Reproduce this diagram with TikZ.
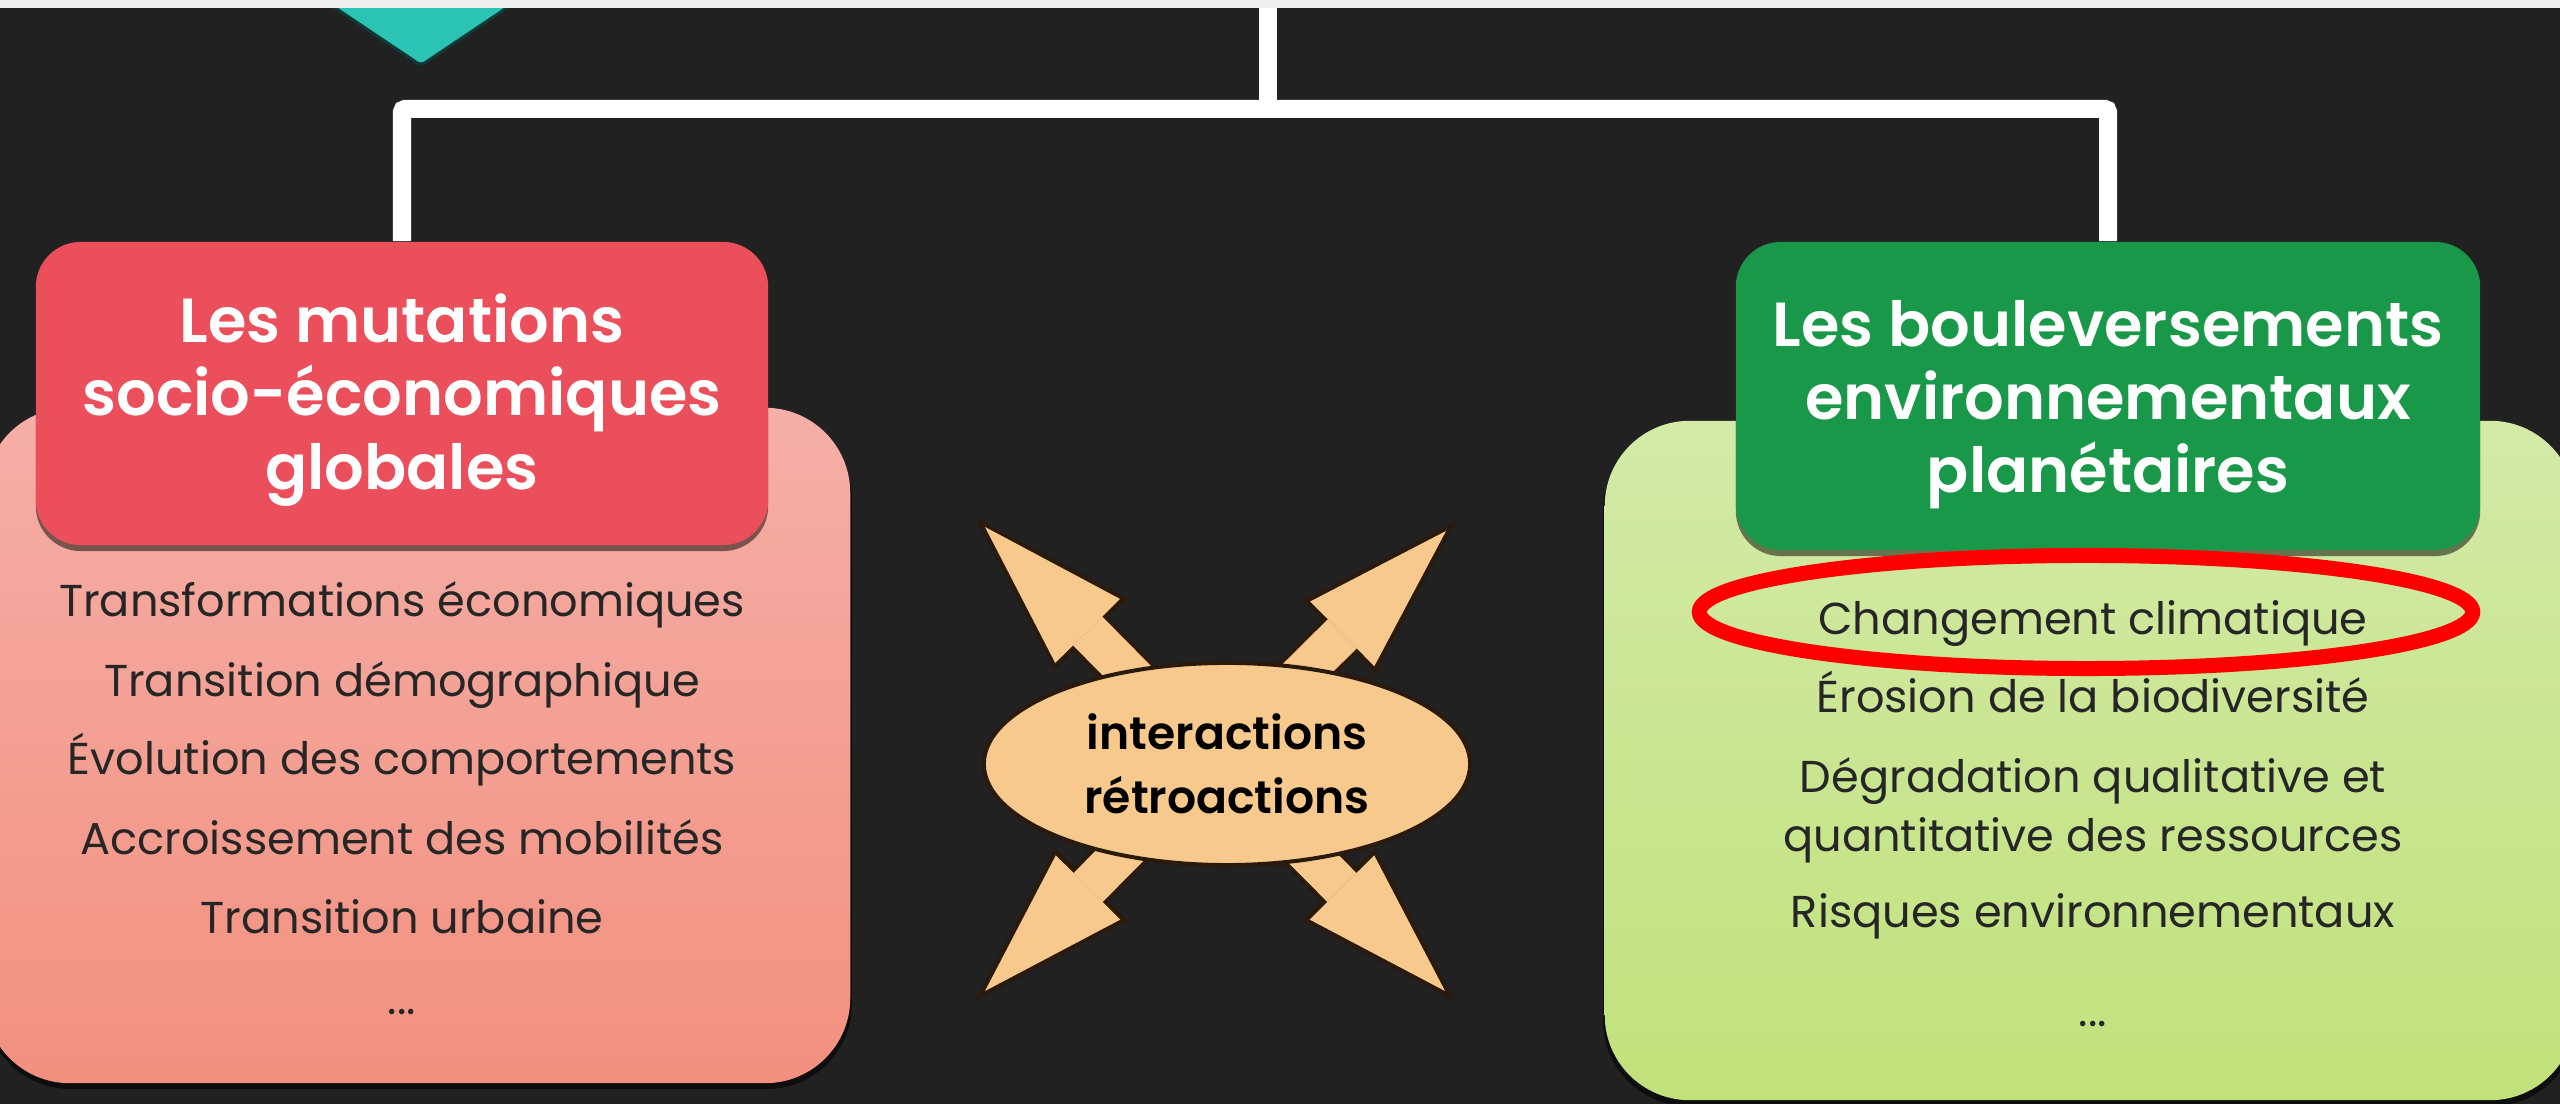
\documentclass[tikz,border=0pt]{standalone}
\usepackage{fontspec}
\setmainfont{Poppins}[BoldFont={Poppins SemiBold}]
\usetikzlibrary{arrows.meta,shapes.geometric,shadows}

\definecolor{bgdark}{HTML}{212121}
\definecolor{bandgray}{HTML}{EEEEEE}
\definecolor{tealtop}{HTML}{2AC3B4}
\definecolor{tealedge}{HTML}{0D3A36}
\definecolor{redhead}{HTML}{EA4F5B}
\definecolor{pinktop}{HTML}{F5AFA7}
\definecolor{pinkbot}{HTML}{F2907F}
\definecolor{greenhead}{HTML}{1A9849}
\definecolor{greentop}{HTML}{D3EAA8}
\definecolor{greenbot}{HTML}{C1E17B}
\definecolor{peach}{HTML}{F8C98C}
\definecolor{peachedge}{HTML}{2A1A0C}
\definecolor{listtext}{HTML}{262626}

\begin{document}
\begin{tikzpicture}[x=0.01cm, y=-0.01cm,
    link/.style={draw=white, line width=0.18cm, rounded corners=0.03cm},
    headbox/.style={rectangle, rounded corners=0.45cm, inner sep=0pt, drop shadow={shadow xshift=0cm, shadow yshift=-0.06cm, opacity=0.5, fill=black}},
    bodybox/.style={rectangle, rounded corners=0.85cm, inner sep=0pt},
    titletext/.style={align=center, text=white, font=\fontsize{17.7}{20.8}\selectfont\bfseries},
    listitem/.style={anchor=base, text=listtext, font=\fontsize{12.7}{16.8}\selectfont},
    fatedge/.style={draw=peachedge, line width=0.49cm, -{Triangle[length=1.64cm, width=1.02cm, line width=0pt]}, shorten >=-0.135cm},
    fatarrow/.style={draw=peach, line width=0.41cm, -{Triangle[length=1.46cm, width=0.91cm, line width=0pt]}}
  ]

  \path[use as bounding box, fill=bgdark] (0,0) rectangle (2560,1104);

  \node [diamond, fill=tealtop, draw=tealedge, line width=0.03cm, minimum width=2.56cm, minimum height=1.72cm, inner sep=0pt, rounded corners=0.04cm] (topic) at (421,-20) {};

  \coordinate (root)  at (1268,0);
  \coordinate (split) at (1268,109);

  \fill [black, opacity=0.6, rounded corners=0.85cm] (-15,414) rectangle (852,1089);
  \fill [black, opacity=0.6, rounded corners=0.85cm] (1603,427) rectangle (2577,1106);
  \node [bodybox, top color=pinktop, bottom color=pinkbot, minimum width=8.65cm, minimum height=6.75cm] (mutlist) at (417.5,745.5) {};
  \node [bodybox, top color=greentop, bottom color=greenbot, minimum width=9.7cm, minimum height=6.79cm] (envlist) at (2090,760.5) {};

  \node [headbox, fill=redhead, minimum width=7.32cm, minimum height=3.03cm] (mut) at (402,393.5) {};
  \node [headbox, fill=greenhead, minimum width=7.44cm, minimum height=3.08cm] (env) at (2108,396) {};

  \draw [link] (root) -- (split);
  \draw [link] (mut.north) |- (split) -| (env.north);

  \fill [bandgray] (0,0) rectangle (2560,8);

  \node [titletext] (mutT) at (402,400) {Les mutations\\socio-économiques\\globales};
  \node [titletext] (envT) at (2108,405) {Les bouleversements\\environnementaux\\planétaires};

  \node [listitem] (eco)   at (402,617)  {Transformations économiques};
  \node [listitem] (demo)  at (402,697)  {Transition démographique};
  \node [listitem] (comp)  at (402,775)  {Évolution des comportements};
  \node [listitem] (mobi)  at (402,855)  {Accroissement des mobilités};
  \node [listitem] (urb)   at (402,934)  {Transition urbaine};
  \node [listitem] (mutetc) at (402,1015) {...};

  \node [listitem] (clim)  at (2093,635)  {Changement climatique};
  \node [listitem] (bio)   at (2093,713)  {Érosion de la biodiversité};
  \node [listitem] (degr)  at (2093,793)  {Dégradation qualitative et};
  \node [listitem] (quant) at (2093,852)  {quantitative des ressources};
  \node [listitem] (risk)  at (2093,928)  {Risques environnementaux};
  \node [listitem] (envetc) at (2093,1027) {...};

  \coordinate (hub) at (1215,760);
  \coordinate (nw)  at (985,527);
  \coordinate (ne)  at (1446,531);
  \coordinate (sw)  at (985,991);
  \coordinate (se)  at (1445,991);
  \foreach \tip in {nw,ne,sw,se} {
    \draw [fatedge] (hub) -- (\tip);
    \draw [fatarrow] (hub) -- (\tip);
  }

  \node [ellipse, fill=peach, draw=peachedge, line width=0.04cm, minimum width=4.86cm, minimum height=2.02cm, inner sep=0pt, align=center, font=\fontsize{13}{18.2}\selectfont\bfseries, text=black] (inter) at (1227,764) {interactions\\rétroactions};

  \node [ellipse, draw=red, line width=0.15cm, minimum width=7.73cm, minimum height=1.13cm, inner sep=0pt] (circled) at (2086,612) {};

\end{tikzpicture}
\end{document}
